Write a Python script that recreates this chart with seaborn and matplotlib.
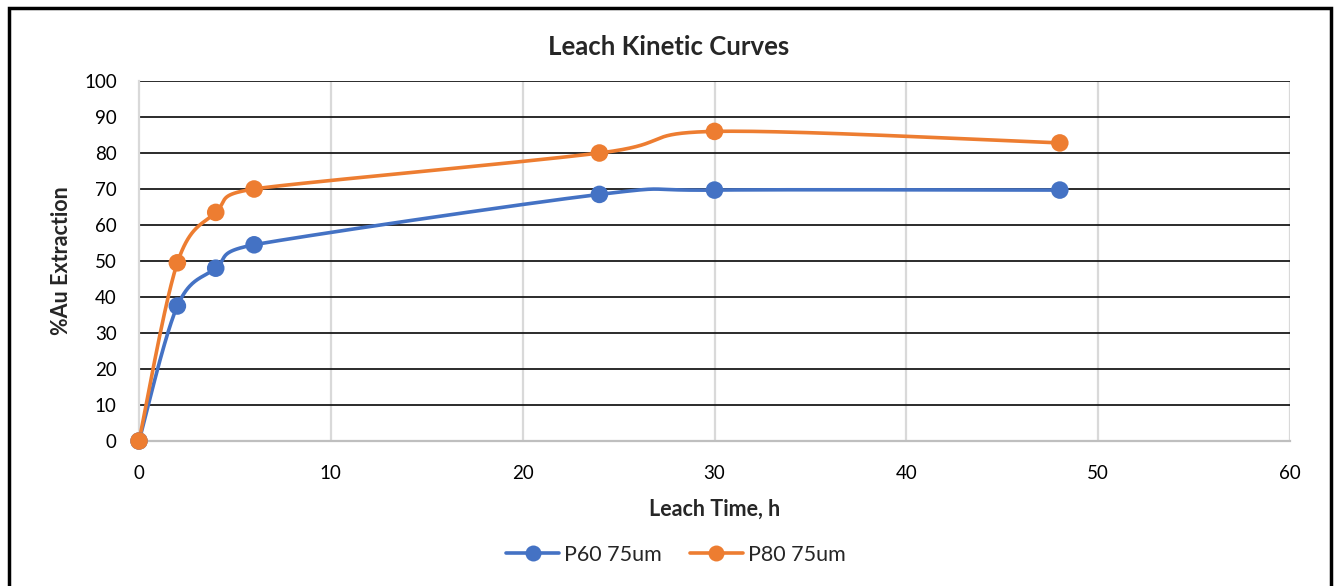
import numpy as np
import pandas as pd
import matplotlib
matplotlib.use("Agg")
import matplotlib.pyplot as plt
from matplotlib.lines import Line2D
from matplotlib.patches import Rectangle
import seaborn as sns

# Leach kinetics data
leach_time_h = [0, 2, 4, 6, 24, 30, 48]
p60_75um = [0, 37.5, 48, 54.5, 68.5, 69.7, 69.7]
p80_75um = [0, 49.5, 63.5, 70, 80, 86, 82.8]
series_names = ["P60 75um", "P80 75um"]
series_colors = ["#4472C4", "#ED7D31"]

sns.set_theme(style="white")
plt.rcParams["font.family"] = ["Lato", "DejaVu Sans"]

W, H, DPI = 1337, 586, 100
fig = plt.figure(figsize=(W / DPI, H / DPI), dpi=DPI)
ax = fig.add_axes([139 / W, 1 - 441 / H, (1290 - 139) / W, (441 - 81) / H])

XMAX, YMAX = 60, 100
# pixel scale used to build the smoothed curve in screen proportions
sx = (1290 - 139) / XMAX
sy = (441 - 81) / YMAX


def smooth(xs, ys, n=60):
    """Cubic Bezier smoothing through every point, tangents limited so x stays monotonic."""
    P = np.column_stack([np.asarray(xs, float) * sx, np.asarray(ys, float) * sy])
    m = len(P)
    T = np.zeros_like(P)
    for i in range(m):
        p_prev = P[max(i - 1, 0)]
        p_next = P[min(i + 1, m - 1)]
        t = (p_next - p_prev) / 6.0
        k = 1.0
        if t[0] > 0:
            if i > 0:
                k = min(k, (P[i, 0] - P[i - 1, 0]) / t[0])
            if i < m - 1:
                k = min(k, (P[i + 1, 0] - P[i, 0]) / t[0])
        T[i] = t * k
    out = []
    for i in range(m - 1):
        p1, p2 = P[i], P[i + 1]
        c1 = p1 + T[i]
        c2 = p2 - T[i + 1]
        t = np.linspace(0, 1, n)[:, None]
        seg = ((1 - t) ** 3) * p1 + 3 * ((1 - t) ** 2) * t * c1 + 3 * (1 - t) * t ** 2 * c2 + t ** 3 * p2
        if i > 0:
            seg = seg[1:]
        out.append(seg)
    pts = np.vstack(out)
    return pts[:, 0] / sx, pts[:, 1] / sy


frames = []
for name, vals in zip(series_names, [p60_75um, p80_75um]):
    cx, cy = smooth(leach_time_h, vals)
    frames.append(pd.DataFrame({"t": cx, "v": cy, "series": name}))
curves = pd.concat(frames, ignore_index=True)

points = pd.concat(
    [pd.DataFrame({"t": leach_time_h, "v": vals, "series": name})
     for name, vals in zip(series_names, [p60_75um, p80_75um])],
    ignore_index=True,
)

palette = dict(zip(series_names, series_colors))

# gridlines
for y in range(10, 101, 10):
    ax.axhline(y, color="#1a1a1a", lw=1.3, zorder=1)
for x in range(10, 61, 10):
    ax.axvline(x, color="#D9D9D9", lw=1.6, zorder=0.5)

sns.lineplot(data=curves, x="t", y="v", hue="series", palette=palette, sort=False,
             estimator=None, lw=2.6, legend=False, ax=ax, zorder=3)
sns.scatterplot(data=points, x="t", y="v", hue="series", palette=palette, s=160,
                edgecolor="none", legend=False, ax=ax, zorder=4, clip_on=False)

ax.set_xlim(0, XMAX)
ax.set_ylim(0, YMAX)
ax.set_xticks(range(0, 61, 10))
ax.set_yticks(range(0, 101, 10))
ax.tick_params(axis="both", length=0, labelsize=13.5, colors="black")
ax.tick_params(axis="y", pad=16)
ax.tick_params(axis="x", pad=17)

for side in ["top", "right"]:
    ax.spines[side].set_visible(False)
ax.spines["left"].set_color("#D9D9D9")
ax.spines["left"].set_linewidth(1.6)
ax.spines["bottom"].set_color("#BFBFBF")
ax.spines["bottom"].set_linewidth(1.6)

ax.set_xlabel("Leach Time, h", fontsize=15.5, fontweight="bold", labelpad=12)
ax.set_ylabel("%Au Extraction", fontsize=15.5, fontweight="bold", labelpad=9)

fig.text(0.5, 1 - 47 / H, "Leach Kinetic Curves", ha="center", va="center",
         fontsize=18.5, fontweight="bold")

handles = [Line2D([0], [0], color=c, lw=2.6, marker="o", markersize=11.5,
                  markeredgewidth=0) for c in series_colors]
fig.legend(handles, series_names, loc="center", bbox_to_anchor=(676 / W, 1 - 555 / H),
           ncol=2, frameon=False, fontsize=15.5, handlelength=2.45, columnspacing=1.3,
           handletextpad=0.25)

# outer chart border
fig.patches.append(Rectangle((9 / W, -0.05), (1331 - 9) / W, 1.05 - 8 / H,
                             transform=fig.transFigure, fill=False, edgecolor="black",
                             lw=2.5, zorder=10))

fig.savefig("out.png", dpi=DPI, facecolor="white")
